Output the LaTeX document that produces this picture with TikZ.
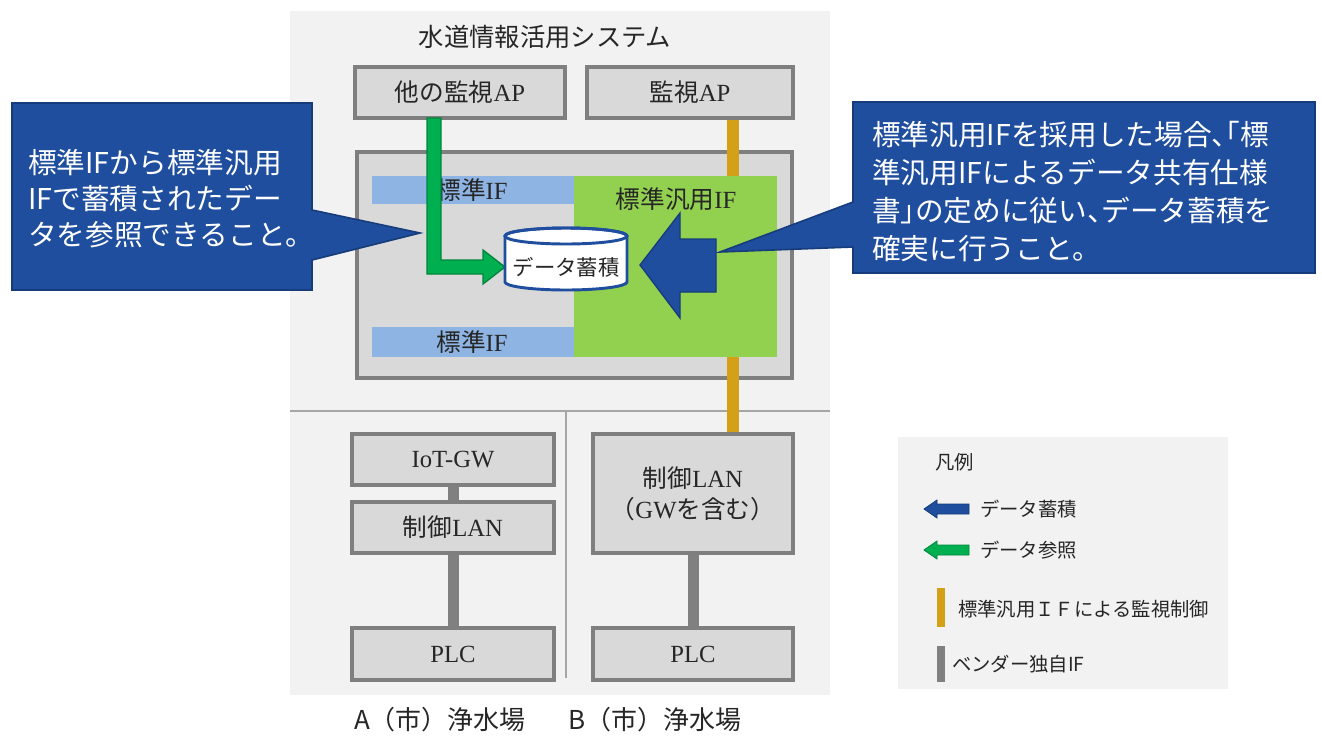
\documentclass[tikz,border=0pt]{standalone}
\usepackage{fontspec}
\setmainfont{Liberation Serif}
\newfontfamily\jp{Noto Sans CJK JP}
\newfontfamily\jph[RawFeature=+halt]{Noto Sans CJK JP}
\usetikzlibrary{fit}
\definecolor{panel}{HTML}{F2F2F2}
\definecolor{boxfill}{HTML}{D9D9D9}
\definecolor{boxline}{HTML}{7F7F7F}
\definecolor{ifblue}{HTML}{8EB4E3}
\definecolor{ifgreen}{HTML}{92D050}
\definecolor{ctlorange}{HTML}{D4A017}
\definecolor{dkblue}{HTML}{1F4E9E}
\definecolor{dkblueline}{HTML}{163C7C}
\definecolor{arrgreen}{HTML}{00B050}
\definecolor{arrgreenline}{HTML}{00853C}
\definecolor{vendor}{HTML}{808080}
\definecolor{sepline}{HTML}{A6A6A6}
\definecolor{txt}{HTML}{262626}
\begin{document}
\begin{tikzpicture}[x=0.75pt,y=-0.75pt,
  box/.style={draw=boxline, fill=boxfill, line width=2.4pt, inner sep=0pt, text=txt, font=\fontsize{18.5}{24}\selectfont, align=center},
  ifbar/.style={fill=ifblue, inner sep=0pt},
  lbl/.style={inner sep=0pt, text=txt, font=\fontsize{18.5}{24}\selectfont},
  vendorline/.style={draw=vendor, line width=8.25pt},
  ctlline/.style={draw=ctlorange, line width=9pt},
  calloutbox/.style={fill=dkblue, draw=dkblueline, line width=1.2pt, line join=miter},
  callouttext/.style={inner sep=0pt, text=white, align=left, anchor=west},
  legtext/.style={inner sep=0pt, anchor=west, text=txt, font=\jp\fontsize{14.5}{18}\selectfont},
  captiontext/.style={inner sep=0pt, text=txt, font=\jp\fontsize{19.5}{24}\selectfont},
]
\useasboundingbox (0,0) rectangle (1322,736);
\fill[white] (0,0) rectangle (1322,736);
% system panel
\fill[panel] (290,11) rectangle (830,695);
\draw[sepline, line width=1.1pt] (290,411) -- (830,411);
\draw[sepline, line width=0.8pt] (566,411) -- (566,678);
\node[lbl, font=\jp\fontsize{19}{24}\selectfont] (title) at (545,37) {水道情報活用システム};
% application boxes
\node[box, minimum width=157.5pt, minimum height=38.25pt] (ap1) at (460,92.5) {{\jp 他の監視}AP};
\node[box, minimum width=154.5pt, minimum height=38.25pt] (ap2) at (690,92.5) {{\jp 監視}AP};
% plant A
\node[box, minimum width=151.5pt, minimum height=38.25pt] (iot) at (453,459.5) {IoT-GW};
\node[box, minimum width=151.5pt, minimum height=38.25pt] (ctlA) at (453,527.5) {{\jp 制御}LAN};
\node[box, minimum width=151.5pt, minimum height=39pt] (plcA) at (453,654) {PLC};
% plant B
\node[box, minimum width=150pt, minimum height=89.25pt] (ctlB) at (693,493.5) {{\jp 制御}LAN\\[-1pt]{\jph （}GW{\jp を含む}{\jph ）}};
\node[box, minimum width=150pt, minimum height=39pt] (plcB) at (693,654) {PLC};
\draw[vendorline] (iot.south) -- (ctlA.north);
\draw[vendorline] (ctlA.south) -- (plcA.north);
\draw[vendorline] (ctlB.south) -- (plcB.north);
% data platform box
\node[box, minimum width=326.25pt, minimum height=169.5pt] (plat) at (574.5,265) {};
\node[ifbar, fit={(372,176) (574,204)}] (if1) {};
\node[lbl] (if1lab) at (472,190) {{\jp 標準}IF};
\node[ifbar, fit={(372,327) (574,357)}] (if2) {};
\node[lbl] (if2lab) at (472,342) {{\jp 標準}IF};
% monitoring control line
\coordinate (ctlx) at (733,0);
\draw[ctlline] (ap2.south -| ctlx) -- (ctlB.north -| ctlx);
\node[fill=ifgreen, inner sep=0pt, fit={(574,176) (777,357)}] (gen) {};
\node[lbl] (genlab) at (676,199) {{\jp 標準汎用}IF};
% data reference arrow
\filldraw[fill=arrgreen, draw=arrgreenline, line width=1pt, line join=miter]
  (427,118) -- (441,118) -- (441,260) -- (483,260) -- (483,250) -- (505,267)
  -- (483,284) -- (483,274) -- (427,274) -- cycle;
% database cylinder
\filldraw[fill=white, draw=dkblue, line width=2.2pt]
  (505,236) -- (505,282) arc[start angle=180, end angle=0, x radius=61, y radius=8]
  -- (627,236) arc[start angle=0, end angle=-180, x radius=61, y radius=8] -- cycle;
\draw[dkblue, line width=2.2pt] (566,236) ellipse [x radius=61, y radius=8];
\node[inner sep=0pt, text=txt, font=\jp\fontsize{16}{20}\selectfont] (db) at (566,267) {データ蓄積};
% data storage arrow
\filldraw[fill=dkblue, draw=dkblueline, line width=1pt, line join=miter]
  (640,265) -- (680,213) -- (680,239) -- (716,239) -- (716,292) -- (680,292)
  -- (680,318) -- cycle;
% callouts
\filldraw[calloutbox] (12,103) -- (312,103) -- (312,210) -- (420,233) -- (312,260)
  -- (312,290) -- (12,290) -- cycle;
\node[callouttext, font=\jp\fontsize{21.5}{27}\selectfont] (ltxt) at (28,199)
  {標準IFから標準汎用\\IFで蓄積されたデー\\タを参照できること。};
\filldraw[calloutbox] (853,102) -- (1315,102) -- (1315,273) -- (853,273) -- (853,247)
  -- (720,252) -- (853,202) -- cycle;
\node[callouttext, font=\jph\fontsize{21.5}{28.5}\selectfont] (rtxt) at (872,192)
  {標準汎用IFを採用した場合、「標\\準汎用IFによるデータ共有仕様\\書」の定めに従い、データ蓄積を\\確実に行うこと。};
% captions
\node[captiontext] (capA) at (440,720) {A（市）浄水場};
\node[captiontext] (capB) at (655,720) {B（市）浄水場};
% legend
\fill[panel] (898,437) rectangle (1228,689);
\node[legtext] (legtitle) at (935,462) {凡例};
\filldraw[fill=dkblue, draw=dkblueline, line width=0.6pt, line join=miter]
  (924,509) -- (937,500) -- (937,504) -- (969,504) -- (969,514) -- (937,514) -- (937,518) -- cycle;
\node[legtext] (leg1) at (980,509) {データ蓄積};
\filldraw[fill=arrgreen, draw=arrgreenline, line width=0.6pt, line join=miter]
  (924,550) -- (937,541) -- (937,545) -- (969,545) -- (969,555) -- (937,555) -- (937,559) -- cycle;
\node[legtext] (leg2) at (980,550) {データ参照};
\fill[ctlorange] (937,588) rectangle (945,627);
\node[legtext] (leg3) at (958,609) {標準汎用ＩＦによる監視制御};
\fill[vendor] (937,646) rectangle (945,682);
\node[legtext] (leg4) at (952,664) {ベンダー独自IF};
\end{tikzpicture}
\end{document}
